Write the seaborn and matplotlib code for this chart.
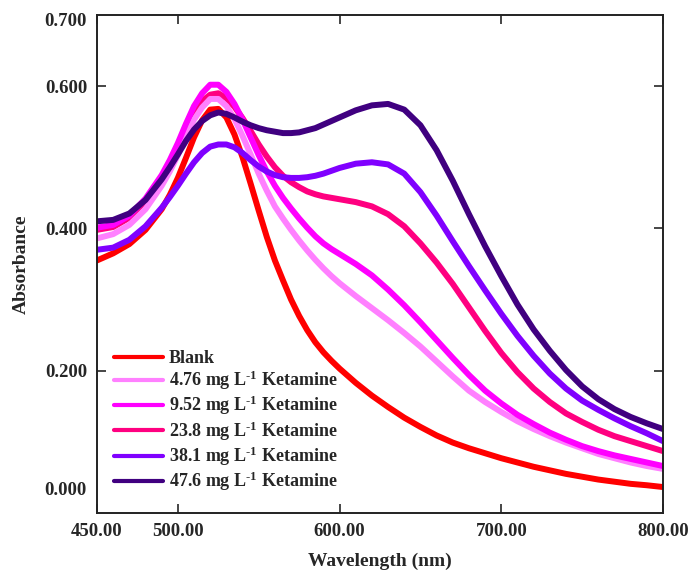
import numpy as np
import pandas as pd
import matplotlib
matplotlib.use("Agg")
import matplotlib.pyplot as plt
import seaborn as sns

# ---------------- data ----------------
wavelength = [450, 460, 470, 480, 490, 495, 500, 505, 510, 515, 520, 525, 530, 535, 540,
              545, 550, 555, 560, 565, 570, 575, 580, 585, 590, 595, 600,
              610, 620, 630, 640, 650, 660, 670, 680, 690, 700, 710, 720, 730, 740,
              750, 760, 770, 780, 790, 800]

blank = [0.355, 0.365, 0.378, 0.398, 0.427, 0.447, 0.471, 0.499, 0.528, 0.552, 0.567, 0.568,
         0.556, 0.532, 0.500, 0.463, 0.425, 0.388, 0.355, 0.327, 0.300, 0.277, 0.257, 0.240,
         0.226, 0.214, 0.203,
         0.183, 0.165, 0.149, 0.134, 0.121, 0.109, 0.099, 0.091, 0.084, 0.077, 0.071, 0.065,
         0.060, 0.055, 0.051, 0.047, 0.044, 0.041, 0.039, 0.0365]

k476 = [0.386, 0.392, 0.405, 0.427, 0.460, 0.480, 0.503, 0.530, 0.553, 0.570, 0.582, 0.582,
        0.572, 0.554, 0.530, 0.504, 0.477, 0.453, 0.431, 0.414, 0.398, 0.383, 0.369, 0.356,
        0.344, 0.333, 0.323,
        0.305, 0.288, 0.271, 0.253, 0.234, 0.213, 0.192, 0.172, 0.156, 0.142, 0.129, 0.118,
        0.108, 0.099, 0.091, 0.083, 0.077, 0.071, 0.066, 0.062]

k952 = [0.401, 0.405, 0.418, 0.442, 0.475, 0.496, 0.520, 0.547, 0.572, 0.590, 0.602, 0.602,
        0.592, 0.575, 0.553, 0.528, 0.503, 0.480, 0.460, 0.443, 0.428, 0.414, 0.401, 0.389,
        0.379, 0.371, 0.364,
        0.350, 0.334, 0.314, 0.292, 0.268, 0.243, 0.218, 0.194, 0.172, 0.154, 0.138, 0.125,
        0.113, 0.103, 0.094, 0.087, 0.081, 0.076, 0.071, 0.066]

k238 = [0.398, 0.402, 0.415, 0.439, 0.472, 0.493, 0.516, 0.541, 0.564, 0.579, 0.588, 0.590,
        0.583, 0.571, 0.555, 0.537, 0.518, 0.501, 0.486, 0.474, 0.465, 0.458, 0.452, 0.448,
        0.445, 0.443, 0.441,
        0.437, 0.431, 0.420, 0.403, 0.379, 0.352, 0.322, 0.289, 0.256, 0.225, 0.198, 0.175,
        0.156, 0.140, 0.128, 0.117, 0.108, 0.101, 0.094, 0.087]

k381 = [0.370, 0.373, 0.384, 0.403, 0.429, 0.444, 0.460, 0.477, 0.493, 0.506, 0.515, 0.518,
        0.518, 0.514, 0.506, 0.496, 0.487, 0.480, 0.475, 0.472, 0.471, 0.471, 0.472, 0.474,
        0.477, 0.481, 0.485,
        0.491, 0.493, 0.490, 0.477, 0.451, 0.418, 0.382, 0.347, 0.313, 0.280, 0.249, 0.221,
        0.196, 0.175, 0.158, 0.145, 0.133, 0.122, 0.112, 0.101]

k476b = [0.410, 0.412, 0.421, 0.440, 0.469, 0.486, 0.504, 0.523, 0.539, 0.551, 0.559, 0.563,
         0.561, 0.556, 0.550, 0.545, 0.541, 0.538, 0.536, 0.534, 0.534, 0.535, 0.538, 0.541,
         0.546, 0.551, 0.556,
         0.566, 0.573, 0.575, 0.567, 0.545, 0.510, 0.467, 0.420, 0.375, 0.333, 0.293, 0.258,
         0.228, 0.201, 0.178, 0.160, 0.146, 0.135, 0.126, 0.118]

labels = ["Blank",
          "4.76 mg L$^{\\text{-}1}$ Ketamine",
          "9.52 mg L$^{\\text{-}1}$ Ketamine",
          "23.8 mg L$^{\\text{-}1}$ Ketamine",
          "38.1 mg L$^{\\text{-}1}$ Ketamine",
          "47.6 mg L$^{\\text{-}1}$ Ketamine"]
series = [blank, k476, k952, k238, k381, k476b]
colors = ["#FF0000", "#FF80FF", "#FF00FF", "#FF0080", "#8000FF", "#400080"]

xticks = [450, 500, 600, 700, 800]
xticklabels = ["450.00", "500.00", "600.00", "700.00", "800.00"]
yticks = [0.2, 0.4, 0.6]
yticklabels = ["0.200", "0.400", "0.600"]

# ---------------- styling ----------------
sns.set_style("ticks")
plt.rcParams["font.family"] = ["Liberation Serif", "DejaVu Serif"]
plt.rcParams["font.weight"] = "bold"
plt.rcParams["mathtext.fontset"] = "custom"
plt.rcParams["mathtext.rm"] = "Liberation Serif:bold"
plt.rcParams["mathtext.it"] = "Liberation Serif:bold"
plt.rcParams["mathtext.bf"] = "Liberation Serif:bold"
plt.rcParams["mathtext.default"] = "rm"

df = pd.concat([pd.DataFrame({"Wavelength": wavelength, "Absorbance": s, "Sample": lab})
                for s, lab in zip(series, labels)], ignore_index=True)

fig = plt.figure(figsize=(6.9, 5.73), dpi=100)
ax = fig.add_axes([97 / 690, 60 / 573, 566 / 690, 498 / 573])

sns.lineplot(data=df, x="Wavelength", y="Absorbance", hue="Sample", hue_order=labels,
             palette=dict(zip(labels, colors)), linewidth=4.3, ax=ax, legend=True,
             sort=True, estimator=None)

# put 23.8 curve beneath 9.52 curve
for ln, lab in zip(ax.lines[:6], labels):
    ln.set_solid_joinstyle("round")
    if lab.startswith("23.8"):
        ln.set_zorder(1.9)

ax.set_xlim(450, 800)
ax.set_ylim(0, 0.7)
ax.set_xticks(xticks)
ax.set_xticklabels(xticklabels)
ax.set_yticks(yticks)
ax.set_yticklabels(yticklabels)
ax.tick_params(direction="in", length=6.5, width=1.2, top=True, right=True,
               labelsize=13.5, pad=7)
for lab in ax.get_xticklabels() + ax.get_yticklabels():
    lab.set_fontweight("bold")

for sp in ax.spines.values():
    sp.set_linewidth(1.4)
    sp.set_color("#222222")

# corner labels (offset as in the reference)
ax.text(-0.018, 0.046, "0.000", transform=ax.transAxes, ha="right", va="center",
        fontsize=13.5, fontweight="bold")
ax.text(-0.018, 0.986, "0.700", transform=ax.transAxes, ha="right", va="center",
        fontsize=13.5, fontweight="bold")

ax.set_xlabel("Wavelength (nm)", fontsize=14, fontweight="bold")
ax.set_ylabel("Absorbance", fontsize=14, fontweight="bold")
ax.xaxis.set_label_coords(0.5, -0.079)
ax.yaxis.set_label_coords(-0.118, 0.5)

leg = ax.legend(loc="lower left", bbox_to_anchor=(0.03, 0.04), frameon=False,
                fontsize=13, handlelength=2.7, handletextpad=0.35,
                labelspacing=0.1, borderpad=0, borderaxespad=0)
for h in leg.get_lines():
    h.set_linewidth(3)
for t in leg.get_texts():
    t.set_fontweight("bold")

fig.savefig("out.png", dpi=100)
